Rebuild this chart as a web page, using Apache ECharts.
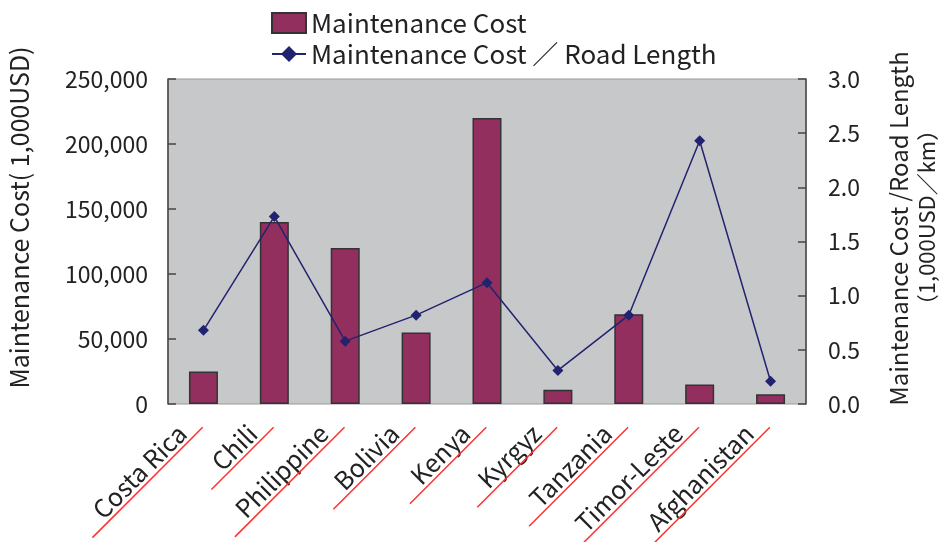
<!DOCTYPE html>
<html>
<head>
<meta charset="utf-8">
<script src="https://cdn.jsdelivr.net/npm/echarts@6/dist/echarts.min.js"></script>
<style>
html,body{margin:0;padding:0;background:#fff;}
#chartsDiv{width:939px;height:542px;}
</style>
</head>
<body>
<div id="chartsDiv"></div>
<script>
var FONT = '"Noto Sans CJK JP", "Noto Sans", sans-serif';

// data
var countries = ['Costa Rica','Chili','Philippine','Bolivia','Kenya','Kyrgyz','Tanzania','Timor-Leste','Afghanistan'];
var costValues = [25000, 140000, 120000, 55000, 220000, 11000, 69000, 15000, 7500];
var perKmValues = [0.68, 1.73, 0.58, 0.82, 1.12, 0.31, 0.82, 2.43, 0.21];
var costTicks = [0, 50000, 100000, 150000, 200000, 250000];
var perKmTicks = [0, 0.5, 1.0, 1.5, 2.0, 2.5, 3.0];

var barName = 'Maintenance Cost';
var lineName = 'Maintenance Cost \uff0f Road Length';

// measure label widths so the red underline follows each label
var cv = document.createElement('canvas').getContext('2d');
cv.font = '25px ' + FONT;
var rich = {
	t: {fontSize: 25, fontFamily: FONT, color: '#222', lineHeight: 25, padding: [0, 16, 0, 0]}
};
countries.forEach(function(c, i){
	rich['u' + i] = {
		fontSize: 1, lineHeight: 2, height: 1.5,
		width: Math.round(cv.measureText(c).width) + 36,
		backgroundColor: '#ff3030'
	};
});

var chart = echarts.init(document.getElementById('chartsDiv'));
var option = {
	backgroundColor: '#fff',
	animation: false,
	textStyle: {fontFamily: FONT},
	legend: {
		orient: 'vertical',
		left: 266,
		top: 5,
		itemWidth: 34,
		itemHeight: 20,
		itemGap: 5,
		textStyle: {fontSize: 26, color: '#222', fontFamily: FONT},
		data: [
			{name: barName, icon: 'rect'},
			{name: lineName}
		]
	},
	grid: {
		left: 168, right: 133, top: 79, bottom: 138,
		outerBoundsMode: 'none',
		containLabel: false,
		show: true,
		backgroundColor: '#c7c8ca',
		borderColor: '#9a9a9a',
		borderWidth: 1
	},
	xAxis: [{
		type: 'category',
		data: countries,
		axisLine: {show: false},
		axisTick: {show: false},
		axisLabel: {
			rotate: 45,
			margin: 24,
			interval: 0,
			verticalAlign: 'bottom',
			formatter: function(v){
				return '{t|' + v + '}\n{u' + countries.indexOf(v) + '| }';
			},
			rich: rich
		}
	}],
	yAxis: [{
		type: 'value',
		min: 0, max: 250000, interval: 50000,
		name: 'Maintenance Cost( 1,000USD)',
		nameLocation: 'middle',
		nameRotate: 90,
		nameGap: 136,
		nameTextStyle: {fontSize: 25, color: '#222', padding: [0, 0, 0, 48]},
		axisLine: {show: true, lineStyle: {color: '#444', width: 1.5}},
		axisTick: {show: true, inside: true, length: 8, lineStyle: {color: '#444', width: 1.5}},
		splitLine: {show: false},
		axisLabel: {
			fontSize: 23, color: '#222', margin: 20,
			formatter: function(v){ return v.toLocaleString('en-US'); }
		}
	}, {
		type: 'value',
		min: 0, max: 3, interval: 0.5,
		name: '{a|Maintenance Cost /Road Length}\n{b|\uff081,000USD\uff0fkm\uff09}',
		nameLocation: 'middle',
		nameRotate: 90,
		nameGap: 79,
		nameTextStyle: {
			color: '#222', padding: [0, 0, 0, 26],
			rich: {
				a: {fontSize: 24, color: '#222', fontFamily: FONT, lineHeight: 28},
				b: {fontSize: 22, color: '#222', fontFamily: FONT, lineHeight: 28, padding: [0, 0, 0, 22]}
			}
		},
		axisLine: {show: true, lineStyle: {color: '#444', width: 1.5}},
		axisTick: {show: true, inside: true, length: 8, lineStyle: {color: '#444', width: 1.5}},
		splitLine: {show: false},
		axisLabel: {
			fontSize: 23, color: '#222', margin: 22,
			formatter: function(v){ return v.toFixed(1); }
		}
	}],
	series: [{
		name: barName,
		type: 'bar',
		yAxisIndex: 0,
		barWidth: 29,
		itemStyle: {color: '#922f5e', borderColor: '#333', borderWidth: 1.5},
		data: costValues
	}, {
		name: lineName,
		type: 'line',
		yAxisIndex: 1,
		symbol: 'diamond',
		symbolSize: 11,
		itemStyle: {color: '#22236e'},
		lineStyle: {color: '#22236e', width: 1.5},
		data: perKmValues
	}]
};
chart.setOption(option);
</script>
</body>
</html>
